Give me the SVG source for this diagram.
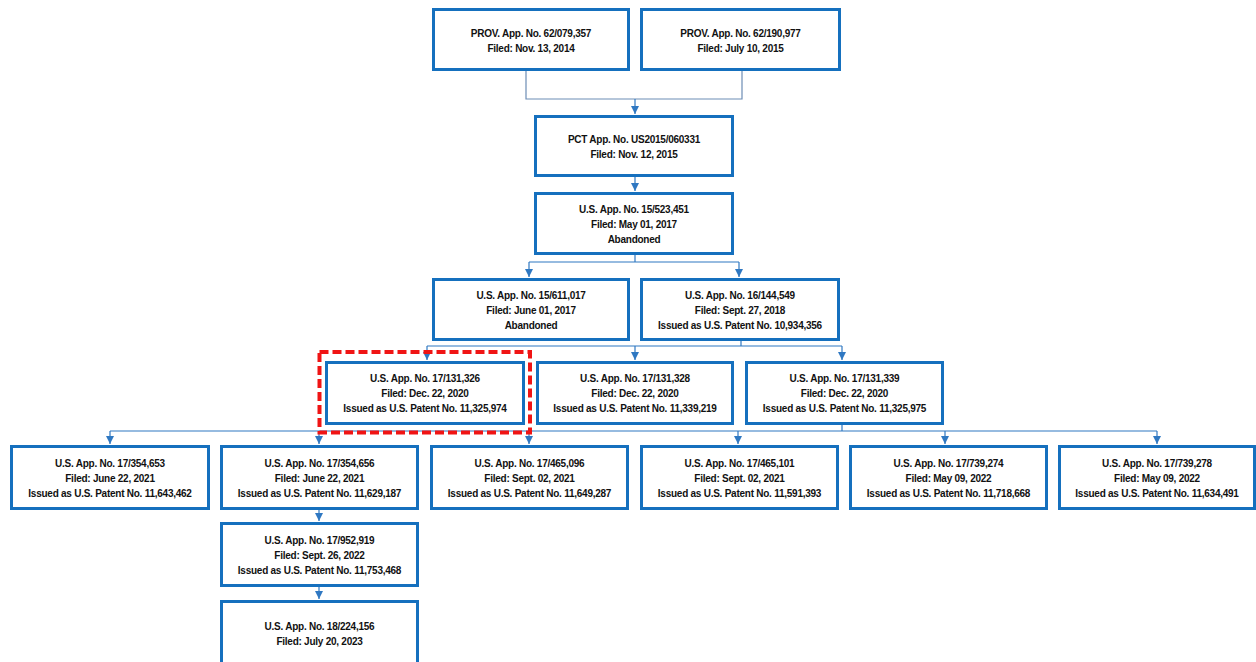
<svg xmlns="http://www.w3.org/2000/svg" width="1256" height="662" viewBox="0 0 1256 662">
<style>
.box{fill:#fff;stroke:#1570be;stroke-width:3}
.t{font-family:"Liberation Sans",Arial,sans-serif;font-weight:bold;font-size:10px;letter-spacing:-0.25px;fill:#111;text-anchor:middle}
.c{fill:none;stroke:#2f78c2;stroke-width:1.2}
.cg{fill:none;stroke:#6d8db5;stroke-width:1.2}
.a{fill:none;stroke:#2f78c2;stroke-width:1.2;marker-end:url(#ah)}
.hl{fill:none;stroke:#f01414;stroke-width:4;stroke-dasharray:9 4}
</style>
<defs>
<marker id="ah" markerUnits="userSpaceOnUse" markerWidth="8" markerHeight="8" refX="3.5" refY="7" orient="0" viewBox="0 0 7 7">
<path d="M0,0 L7,0 L3.5,7 Z" fill="#2f78c2"/>
</marker>
</defs>
<rect width="1256" height="662" fill="#fff"/>
<g id="connectors">
<polyline class="cg" points="526,71 526,99 742,99 742,71"/>
<line class="a" x1="635" y1="99" x2="635" y2="114"/>
<line class="a" x1="635" y1="177" x2="635" y2="191"/>
<polyline class="c" points="635,255 635,262"/>
<line class="c" x1="529" y1="262" x2="739" y2="262"/>
<line class="a" x1="529" y1="262" x2="529" y2="277"/>
<line class="a" x1="739" y1="262" x2="739" y2="277"/>
<polyline class="c" points="741,341 741,346"/>
<line class="c" x1="427" y1="346" x2="842" y2="346"/>
<line class="a" x1="427" y1="346" x2="427" y2="360"/>
<line class="a" x1="635" y1="346" x2="635" y2="360"/>
<line class="a" x1="842" y1="346" x2="842" y2="360"/>
<polyline class="c" points="842,425 842,431"/>
<line class="c" x1="110" y1="431" x2="1157" y2="431"/>
<line class="a" x1="110" y1="431" x2="110" y2="444"/>
<line class="a" x1="319" y1="431" x2="319" y2="444"/>
<line class="a" x1="529" y1="431" x2="529" y2="444"/>
<line class="a" x1="738" y1="431" x2="738" y2="444"/>
<line class="a" x1="945" y1="431" x2="945" y2="444"/>
<line class="a" x1="1157" y1="431" x2="1157" y2="444"/>
<line class="a" x1="319" y1="510" x2="319" y2="521"/>
<line class="a" x1="319" y1="586" x2="319" y2="599"/>
</g>
<g id="prov-62-079357">
<rect class="box" x="433.5" y="9.5" width="195" height="60"/>
<text class="t" x="531" y="36.5">PROV. App. No. 62/079,357</text>
<text class="t" x="531" y="51.5">Filed: Nov. 13, 2014</text>
</g>
<g id="prov-62-190977">
<rect class="box" x="641.5" y="9.5" width="198" height="60"/>
<text class="t" x="740.5" y="36.5">PROV. App. No. 62/190,977</text>
<text class="t" x="740.5" y="51.5">Filed: July 10, 2015</text>
</g>
<g id="pct-us2015-060331">
<rect class="box" x="535.5" y="116.5" width="197" height="59"/>
<text class="t" x="634" y="142.5">PCT App. No. US2015/060331</text>
<text class="t" x="634" y="157.5">Filed: Nov. 12, 2015</text>
</g>
<g id="us-15-523451">
<rect class="box" x="535.5" y="193.5" width="197" height="60"/>
<text class="t" x="634" y="212.5">U.S. App. No. 15/523,451</text>
<text class="t" x="634" y="227.5">Filed: May 01, 2017</text>
<text class="t" x="634" y="242.5">Abandoned</text>
</g>
<g id="us-15-611017">
<rect class="box" x="433.5" y="279.5" width="195" height="60"/>
<text class="t" x="531" y="298.5">U.S. App. No. 15/611,017</text>
<text class="t" x="531" y="313.5">Filed: June 01, 2017</text>
<text class="t" x="531" y="328.5">Abandoned</text>
</g>
<g id="us-16-144549">
<rect class="box" x="641.5" y="279.5" width="197" height="60"/>
<text class="t" x="740" y="298.5">U.S. App. No. 16/144,549</text>
<text class="t" x="740" y="313.5">Filed: Sept. 27, 2018</text>
<text class="t" x="740" y="328.5">Issued as U.S. Patent No. 10,934,356</text>
</g>
<g id="us-17-131326">
<rect class="box" x="326.5" y="362.5" width="197" height="61"/>
<text class="t" x="425" y="381.5">U.S. App. No. 17/131,326</text>
<text class="t" x="425" y="396.5">Filed: Dec. 22, 2020</text>
<text class="t" x="425" y="411.5">Issued as U.S. Patent No. 11,325,974</text>
</g>
<g id="us-17-131328">
<rect class="box" x="537.5" y="362.5" width="195" height="61"/>
<text class="t" x="635" y="381.5">U.S. App. No. 17/131,328</text>
<text class="t" x="635" y="396.5">Filed: Dec. 22, 2020</text>
<text class="t" x="635" y="411.5">Issued as U.S. Patent No. 11,339,219</text>
</g>
<g id="us-17-131339">
<rect class="box" x="746.5" y="362.5" width="196" height="61"/>
<text class="t" x="844.5" y="381.5">U.S. App. No. 17/131,339</text>
<text class="t" x="844.5" y="396.5">Filed: Dec. 22, 2020</text>
<text class="t" x="844.5" y="411.5">Issued as U.S. Patent No. 11,325,975</text>
</g>
<g id="us-17-354653">
<rect class="box" x="11.5" y="446.5" width="197" height="62"/>
<text class="t" x="110" y="466.5">U.S. App. No. 17/354,653</text>
<text class="t" x="110" y="481.5">Filed: June 22, 2021</text>
<text class="t" x="110" y="496.5">Issued as U.S. Patent No. 11,643,462</text>
</g>
<g id="us-17-354656">
<rect class="box" x="221.5" y="446.5" width="196" height="62"/>
<text class="t" x="319.5" y="466.5">U.S. App. No. 17/354,656</text>
<text class="t" x="319.5" y="481.5">Filed: June 22, 2021</text>
<text class="t" x="319.5" y="496.5">Issued as U.S. Patent No. 11,629,187</text>
</g>
<g id="us-17-465096">
<rect class="box" x="431.5" y="446.5" width="196" height="62"/>
<text class="t" x="529.5" y="466.5">U.S. App. No. 17/465,096</text>
<text class="t" x="529.5" y="481.5">Filed: Sept. 02, 2021</text>
<text class="t" x="529.5" y="496.5">Issued as U.S. Patent No. 11,649,287</text>
</g>
<g id="us-17-465101">
<rect class="box" x="641.5" y="446.5" width="196" height="62"/>
<text class="t" x="739.5" y="466.5">U.S. App. No. 17/465,101</text>
<text class="t" x="739.5" y="481.5">Filed: Sept. 02, 2021</text>
<text class="t" x="739.5" y="496.5">Issued as U.S. Patent No. 11,591,393</text>
</g>
<g id="us-17-739274">
<rect class="box" x="850.5" y="446.5" width="196" height="62"/>
<text class="t" x="948.5" y="466.5">U.S. App. No. 17/739,274</text>
<text class="t" x="948.5" y="481.5">Filed: May 09, 2022</text>
<text class="t" x="948.5" y="496.5">Issued as U.S. Patent No. 11,718,668</text>
</g>
<g id="us-17-739278">
<rect class="box" x="1059.5" y="446.5" width="195" height="62"/>
<text class="t" x="1157" y="466.5">U.S. App. No. 17/739,278</text>
<text class="t" x="1157" y="481.5">Filed: May 09, 2022</text>
<text class="t" x="1157" y="496.5">Issued as U.S. Patent No. 11,634,491</text>
</g>
<g id="us-17-952919">
<rect class="box" x="221.5" y="523.5" width="196" height="62"/>
<text class="t" x="319.5" y="543.5">U.S. App. No. 17/952,919</text>
<text class="t" x="319.5" y="558.5">Filed: Sept. 26, 2022</text>
<text class="t" x="319.5" y="573.5">Issued as U.S. Patent No. 11,753,468</text>
</g>
<g id="us-18-224156">
<rect class="box" x="221.5" y="601.5" width="196" height="62"/>
<text class="t" x="319.5" y="629.5">U.S. App. No. 18/224,156</text>
<text class="t" x="319.5" y="644.5">Filed: July 20, 2023</text>
</g>
<g id="highlight-17-131326">
<rect class="hl" x="319.5" y="352" width="210.5" height="80.5"/>
</g>
</svg>
